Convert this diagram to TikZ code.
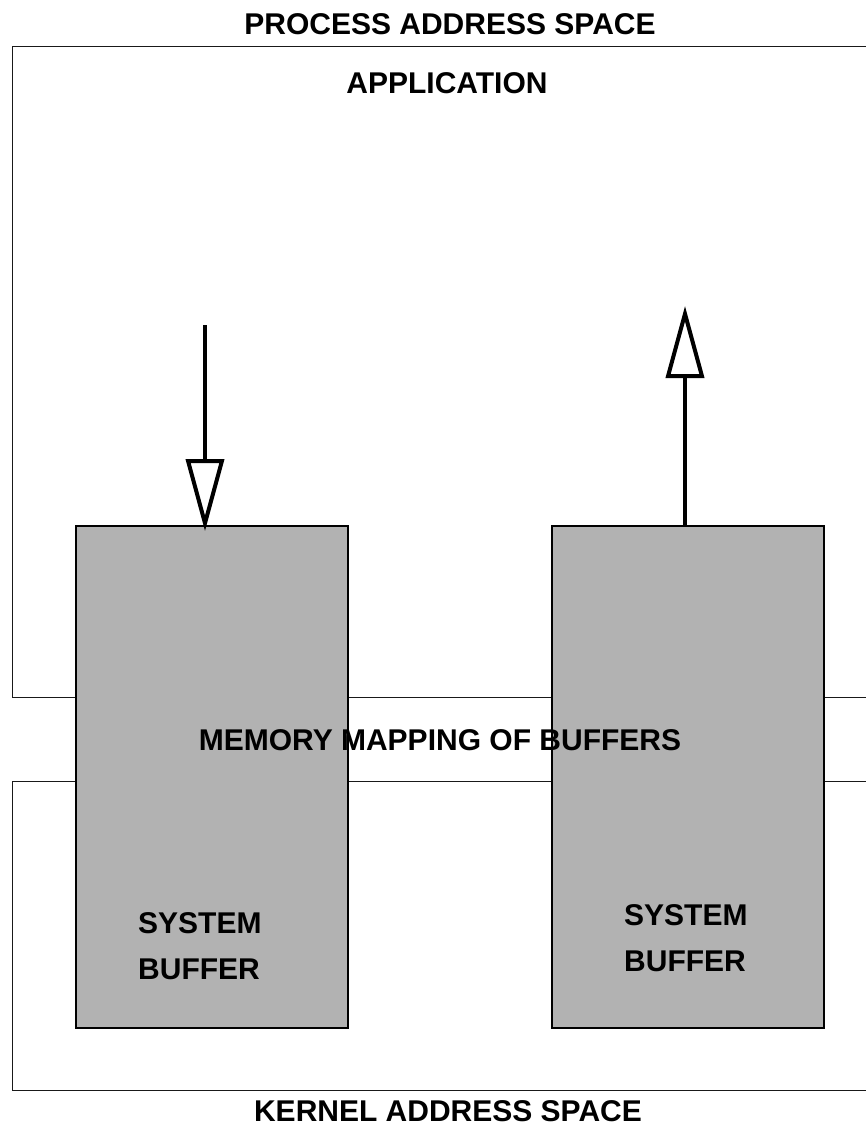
\documentclass[tikz,border=0pt]{standalone}
\usepackage{fontspec}
\setmainfont{Liberation Sans}
\usetikzlibrary{arrows.meta}
\begin{document}
\begin{tikzpicture}[x=1pt,y=-1pt,
  region/.style={draw=black!90, line width=1.4pt, inner sep=0pt, anchor=north west},
  buffer/.style={draw=black, line width=2pt, fill=black!30, inner sep=0pt, anchor=north west,
                 minimum width=272pt, minimum height=502pt},
  label/.style={font=\bfseries\fontsize{30}{36}\selectfont, inner sep=0pt},
  buflabel/.style={font=\bfseries\fontsize{30}{46}\selectfont, inner sep=0pt, align=left, anchor=west},
  flow/.style={line width=4pt, -{Triangle[open, length=72pt, width=38pt]}}
]
\useasboundingbox (0,0) rectangle (866,1141);
\clip (0,0) rectangle (866,1141);

% address space regions (open to the right)
\node[region, minimum width=880pt, minimum height=651pt] (proc) at (12,46) {};
\node[region, minimum width=880pt, minimum height=309pt] (kern) at (12,781) {};

% shared system buffers
\node[buffer] (buf1) at (75,525) {};
\node[buffer] (buf2) at (551,525) {};

% titles
\node[label] (pas) at (450,24) {PROCESS ADDRESS SPACE};
\node[label] (app) at (447,83) {APPLICATION};
\node[label] (mm)  at (440,740) {MEMORY MAPPING OF BUFFERS};
\node[label] (kas) at (448,1111) {KERNEL ADDRESS SPACE};

\node[buflabel] (sb1) at (138,946) {SYSTEM\\BUFFER};
\node[buflabel] (sb2) at (624,938) {SYSTEM\\BUFFER};

% data flow into and out of the buffers
\coordinate (src) at (205,325);
\coordinate (dst) at (685,306);
\draw[flow, shorten >=-6pt] (src) -- (src |- buf1.north);
\draw[flow] (buf2.north -| dst) -- (dst);
\end{tikzpicture}
\end{document}
